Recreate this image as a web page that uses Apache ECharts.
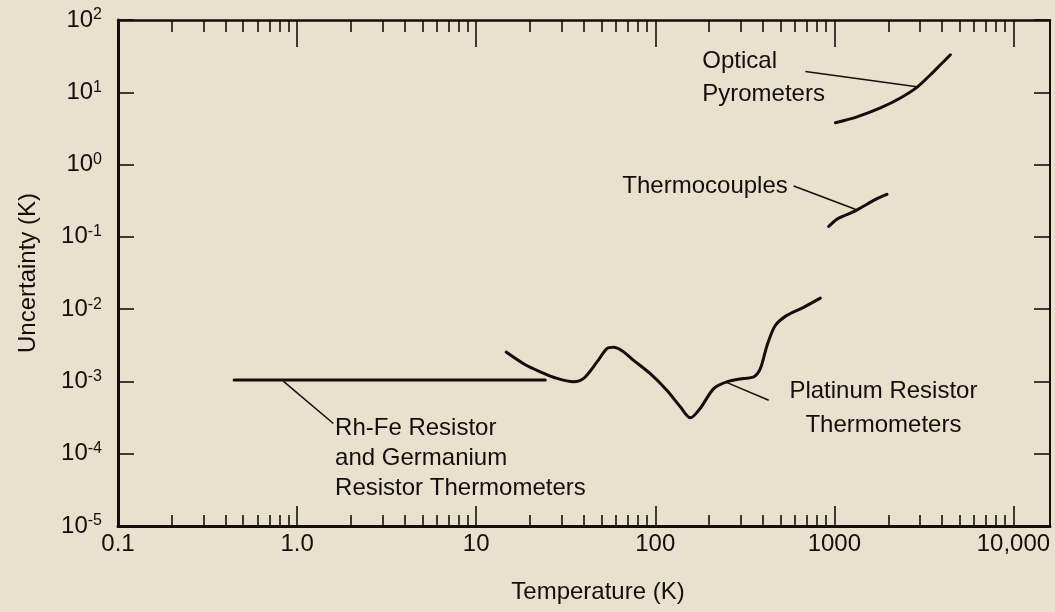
<!DOCTYPE html>
<html>
<head>
<meta charset="utf-8">
<script src="https://cdn.jsdelivr.net/npm/echarts@6/dist/echarts.min.js"></script>
<style>
html,body{margin:0;padding:0;background:#e7e1ce;}
#chart{width:1055px;height:612px;}
</style>
</head>
<body>
<div id="chart"></div>
<script>
// ---- data ----
const rhfeT = [0.445, 24.3];
const rhfeU = [1.05e-3, 1.05e-3];

const platT = [14.7, 18.4, 22.8, 28.3, 35, 39.8, 47.3, 53.7, 58.5, 65.2, 75.7, 93.8, 116, 138, 157, 178, 212, 251, 311, 354, 386, 421, 468, 543, 673, 835];
const platU = [2.55e-3, 1.76e-3, 1.36e-3, 1.1e-3, 0.99e-3, 1.1e-3, 1.86e-3, 2.84e-3, 2.96e-3, 2.65e-3, 1.96e-3, 1.28e-3, 7.55e-4, 4.45e-4, 3.14e-4, 4.23e-4, 7.96e-4, 9.86e-4, 1.1e-3, 1.15e-3, 1.5e-3, 3.15e-3, 5.94e-3, 8.2e-3, 1.06e-2, 1.42e-2];

const thermoT = [929, 1033, 1150, 1309, 1521, 1730, 1968];
const thermoU = [0.139, 0.175, 0.199, 0.229, 0.283, 0.338, 0.388];

const optT = [1014, 1337, 1807, 2337, 2900, 3440, 3910, 4448];
const optU = [3.78, 4.56, 6.07, 8.34, 11.8, 17.5, 24, 33];

// annotation leader lines [T1, U1, T2, U2]
const leaderRhfe = [0.84, 1.0e-3, 1.594, 2.62e-4];
const leaderPlat = [246, 9.86e-4, 430, 5.5e-4];
const leaderThermo = [593, 0.505, 1309, 0.241];
const leaderOpt = [689, 19.4, 2958, 11.8];

// annotation texts and anchors
const labelTexts = ['Optical\nPyrometers', 'Thermocouples', 'Platinum Resistor\nThermometers', 'Rh-Fe Resistor\nand Germanium\nResistor Thermometers'];
const labelT = [183, 65.5, 1879, 1.63];
const labelU = [15.6, 0.5, 4.23e-4, 8.6e-5];

// axes
const xMin = 0.1, xMax = 16000;
const yMin = 1e-5, yMax = 100;
const xTickExp = [-1, 0, 1, 2, 3, 4];
const xTickLabels = ['0.1', '1.0', '10', '100', '1000', '10,000'];
const yTickExp = [-5, -4, -3, -2, -1, 0, 1, 2];
const yTickLabels = ['-5', '-4', '-3', '-2', '-1', '0', '1', '2'];

// ---- build ----
const ink = '#140f0c';
const font = "'Liberation Sans', Arial, Helvetica, sans-serif";
const fs = 24;
const zip = (a, b) => a.map((v, i) => [v, b[i]]);
const xMinE = Math.log10(xMin), xMaxE = Math.log10(xMax);
const yMinE = Math.log10(yMin), yMaxE = Math.log10(yMax);
const xMinorExp = [];
for (let d = -1; d < 5; d++) {
  for (let k = 2; k <= 9; k++) {
    const e = d + Math.log10(k);
    if (e < xMaxE) xMinorExp.push(e);
  }
}
const near = (v, arr) => arr.findIndex(a => Math.abs(a - v) < 1e-6);

function curve(name, t, u) {
  return {
    name, type: 'line', xAxisIndex: 0, yAxisIndex: 0,
    data: zip(t, u), showSymbol: false, symbol: 'none', smooth: 0.3,
    lineStyle: { color: ink, width: 3, cap: 'round', join: 'round' },
    silent: true, z: 5
  };
}
function leader(l) {
  return {
    type: 'line', xAxisIndex: 0, yAxisIndex: 0,
    data: [[l[0], l[1]], [l[2], l[3]]], showSymbol: false, symbol: 'none',
    lineStyle: { color: ink, width: 1.5 }, silent: true, z: 4
  };
}
const labelCfg = [
  { position: 'right', distance: 0, align: 'left', lineHeight: 33 },
  { position: 'right', distance: 0, align: 'left', lineHeight: 26 },
  { position: 'inside', align: 'center', lineHeight: 34 },
  { position: 'right', distance: 0, align: 'left', lineHeight: 30 }
];
const labelData = labelTexts.map((txt, i) => ({
  value: [labelT[i], labelU[i]],
  label: Object.assign({ show: true, formatter: txt, color: ink, opacity: 1, fontSize: fs, fontFamily: font, verticalAlign: 'middle', textBorderWidth: 0 }, labelCfg[i])
}));

const commonX = { type: 'value', min: xMinE, max: xMaxE, interval: 1, splitLine: { show: false } };
const commonY = { type: 'value', min: yMinE, max: yMaxE, interval: 1, splitLine: { show: false } };

const option = {
  backgroundColor: '#e7e1ce',
  animation: false,
  textStyle: { fontFamily: font, color: ink },
  grid: { left: 118, right: 5, top: 20, bottom: 86, containLabel: false },
  xAxis: [
    { type: 'log', logBase: 10, min: xMin, max: xMax, show: false },
    Object.assign({}, commonX, {
      position: 'bottom',
      axisLine: { onZero: false, lineStyle: { color: ink, width: 3 } },
      axisTick: { inside: true, length: 20, customValues: xTickExp, lineStyle: { color: ink, width: 1.6 } },
      axisLabel: {
        customValues: xTickExp, margin: 6, color: ink, fontSize: fs, fontFamily: font,
        formatter: v => { const i = near(v, xTickExp); return i < 0 ? '' : xTickLabels[i]; }
      },
      name: 'Temperature (K)', nameLocation: 'middle', nameGap: 54,
      nameTextStyle: { fontSize: fs, fontFamily: font, color: ink, padding: [0, 0, 0, 28] }
    }),
    Object.assign({}, commonX, {
      position: 'bottom',
      axisLine: { show: false, onZero: false },
      axisTick: { inside: true, length: 11, customValues: xMinorExp, lineStyle: { color: ink, width: 1.6 } },
      axisLabel: { show: false }
    }),
    Object.assign({}, commonX, {
      position: 'top',
      axisLine: { onZero: false, lineStyle: { color: ink, width: 2.5 } },
      axisTick: { inside: true, length: 27, customValues: xTickExp, lineStyle: { color: ink, width: 1.6 } },
      axisLabel: { show: false }
    }),
    Object.assign({}, commonX, {
      position: 'top',
      axisLine: { show: false, onZero: false },
      axisTick: { inside: true, length: 12, customValues: xMinorExp, lineStyle: { color: ink, width: 1.6 } },
      axisLabel: { show: false }
    })
  ],
  yAxis: [
    { type: 'log', logBase: 10, min: yMin, max: yMax, show: false },
    Object.assign({}, commonY, {
      position: 'left',
      axisLine: { onZero: false, lineStyle: { color: ink, width: 3 } },
      axisTick: { inside: true, length: 16, customValues: yTickExp, lineStyle: { color: ink, width: 1.6 } },
      axisLabel: {
        customValues: yTickExp, margin: 16,
        formatter: v => { const i = near(v, yTickExp); return i < 0 ? '' : '{b|10}{s|' + yTickLabels[i] + '}'; },
        rich: {
          b: { fontSize: fs, lineHeight: 26, fontFamily: font, color: ink },
          s: { fontSize: 16, lineHeight: 16, fontFamily: font, color: ink, verticalAlign: 'top' }
        }
      },
      name: 'Uncertainty (K)', nameLocation: 'middle', nameGap: 78, nameRotate: 90,
      nameTextStyle: { fontSize: fs, fontFamily: font, color: ink }
    }),
    Object.assign({}, commonY, {
      position: 'right',
      axisLine: { onZero: false, lineStyle: { color: ink, width: 2 } },
      axisTick: { inside: true, length: 16, customValues: yTickExp, lineStyle: { color: ink, width: 1.6 } },
      axisLabel: { show: false }
    })
  ],
  series: [
    curve('Rh-Fe and Germanium Resistor Thermometers', rhfeT, rhfeU),
    curve('Platinum Resistor Thermometers', platT, platU),
    curve('Thermocouples', thermoT, thermoU),
    curve('Optical Pyrometers', optT, optU),
    leader(leaderRhfe), leader(leaderPlat), leader(leaderThermo), leader(leaderOpt),
    {
      type: 'scatter', xAxisIndex: 0, yAxisIndex: 0, symbolSize: 0, silent: true, z: 6,
      data: labelData
    }
  ]
};
const chart = echarts.init(document.getElementById('chart'), null, { renderer: 'canvas' });
chart.setOption(option);
</script>
</body>
</html>
